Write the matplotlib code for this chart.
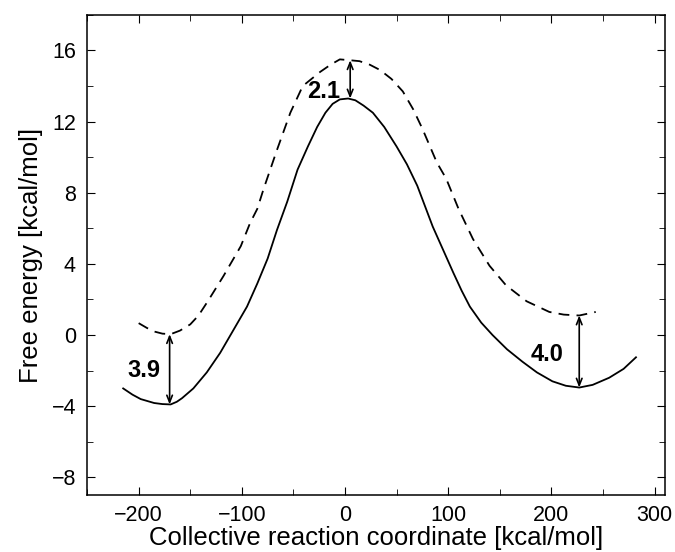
import matplotlib
matplotlib.use("Agg")
import matplotlib.pyplot as plt
from matplotlib.ticker import MultipleLocator

plt.rcParams['font.family'] = ['Liberation Sans', 'DejaVu Sans']

# solid curve
solid_x = [-215, -206, -198, -185, -177, -169, -163, -158, -147, -134, -121, -108, -95, -85, -75,
           -66, -56, -46, -36, -27, -19, -12, -5, 3, 10, 18, 27, 38, 50, 60, 70, 85, 95, 105,
           113, 121, 132, 143, 157, 172, 186, 201, 214, 227, 240, 256, 270, 282]
solid_y = [-3.0, -3.35, -3.6, -3.82, -3.88, -3.9, -3.75, -3.55, -3.0, -2.1, -1.0, 0.3, 1.6, 2.9, 4.3,
           5.9, 7.5, 9.3, 10.6, 11.7, 12.5, 13.0, 13.25, 13.3, 13.2, 12.9, 12.5, 11.7, 10.6, 9.6, 8.4, 6.1, 4.8, 3.5,
           2.5, 1.6, 0.7, 0.0, -0.8, -1.5, -2.1, -2.6, -2.85, -2.95, -2.8, -2.4, -1.9, -1.25]

# dashed curve
dash_x = [-200, -192, -185, -177, -169, -160, -150, -142, -133, -118, -101, -92, -85, -79, -66,
          -53, -41, -24, -14, -5, 5, 14, 24, 34, 45, 56, 66, 75, 89, 98, 110, 124, 140, 156,
          176, 198, 212, 227, 243]
dash_y = [0.67, 0.4, 0.2, 0.08, 0.05, 0.25, 0.6, 1.1, 1.9, 3.3, 5.0, 6.3, 7.1, 8.2, 10.4,
          12.5, 14.0, 14.8, 15.2, 15.5, 15.45, 15.4, 15.2, 14.9, 14.4, 13.7, 12.7, 11.6, 9.7, 8.8, 7.1, 5.4, 3.9, 2.8,
          1.9, 1.3, 1.15, 1.1, 1.3]

# arrows between the curves and their labels
arrow_x = [-170, 5, 227]
arrow_lo = [-3.9, 13.3, -2.95]
arrow_hi = [0.05, 15.45, 1.1]
labels = ['3.9', '2.1', '4.0']
label_x = [-195, -21, 196]
label_y = [-2.0, 13.7, -1.1]

fig = plt.figure(figsize=(6.75, 5.52), dpi=100)
ax = fig.add_axes([0.129, 0.103, 0.856, 0.870])

ax.plot(solid_x, solid_y, color='black', lw=1.3)
ax.plot(dash_x, dash_y, color='black', lw=1.3, dashes=(6, 4))

for x, lo, hi, t, tx, ty in zip(arrow_x, arrow_lo, arrow_hi, labels, label_x, label_y):
    ax.annotate('', xy=(x, hi), xytext=(x, lo),
                arrowprops=dict(arrowstyle='<->,head_length=0.5,head_width=0.2', color='black',
                                lw=1.2, shrinkA=0, shrinkB=0))
    ax.text(tx, ty, t, fontsize=17, fontweight='bold', ha='center', va='center')

ax.set_xlim(-250, 310)
ax.set_ylim(-9, 18)
ax.xaxis.set_major_locator(MultipleLocator(100))
ax.xaxis.set_minor_locator(MultipleLocator(50))
ax.yaxis.set_major_locator(MultipleLocator(4))
ax.yaxis.set_minor_locator(MultipleLocator(2))
ax.tick_params(which='both', direction='in', top=True, right=True, labelsize=15.5)
ax.tick_params(axis='y', pad=8)
ax.tick_params(axis='x', pad=7)
ax.tick_params(which='major', length=6)
ax.tick_params(which='minor', length=4)
for s in ax.spines.values():
    s.set_linewidth(1.1)

ax.set_xlabel('Collective reaction coordinate [kcal/mol]', fontsize=18.5, labelpad=0)
ax.set_ylabel('Free energy [kcal/mol]', fontsize=18.5, labelpad=6)

fig.savefig('out.png', dpi=100)
